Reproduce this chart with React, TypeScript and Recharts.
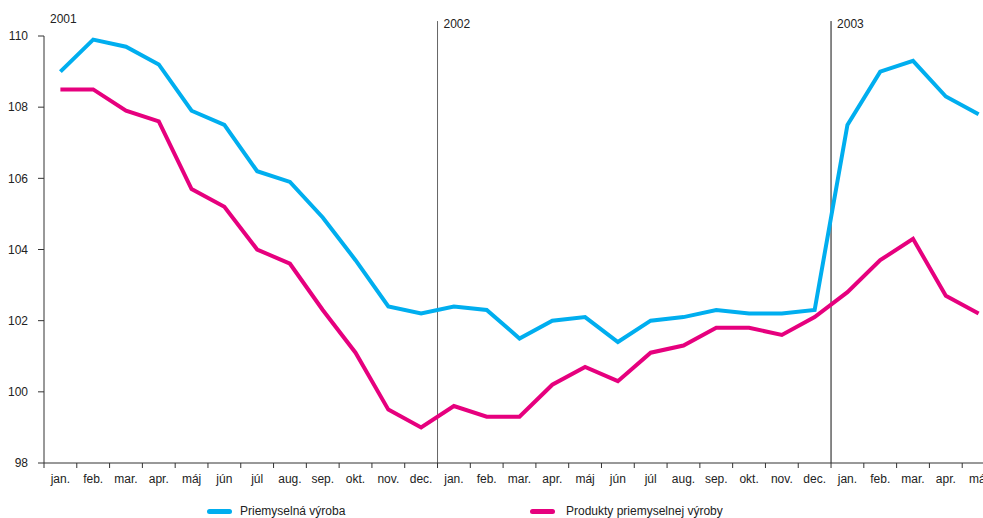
import { Line, LineChart, ReferenceLine, XAxis, YAxis } from "recharts";

const months = [
  "jan.", "feb.", "mar.", "apr.", "máj", "jún", "júl", "aug.", "sep.", "okt.", "nov.", "dec.",
  "jan.", "feb.", "mar.", "apr.", "máj", "jún", "júl", "aug.", "sep.", "okt.", "nov.", "dec.",
  "jan.", "feb.", "mar.", "apr.", "máj",
];

const vyroba = [
  109.0, 109.9, 109.7, 109.2, 107.9, 107.5, 106.2, 105.9, 104.9, 103.7, 102.4, 102.2,
  102.4, 102.3, 101.5, 102.0, 102.1, 101.4, 102.0, 102.1, 102.3, 102.2, 102.2, 102.3,
  107.5, 109.0, 109.3, 108.3, 107.8,
];

const produkty = [
  108.5, 108.5, 107.9, 107.6, 105.7, 105.2, 104.0, 103.6, 102.3, 101.1, 99.5, 99.0,
  99.6, 99.3, 99.3, 100.2, 100.7, 100.3, 101.1, 101.3, 101.8, 101.8, 101.6, 102.1,
  102.8, 103.7, 104.3, 102.7, 102.2,
];

const years = [
  { x: 0, label: "2001", dy: 2 },
  { x: 12, label: "2002", dy: 7 },
  { x: 24, label: "2003", dy: 7 },
];

const yTicks = [98, 100, 102, 104, 106, 108, 110];

const data = months.map((m, i) => ({
  x: i + 0.5,
  month: m,
  vyroba: vyroba[i],
  produkty: produkty[i],
}));

const CHART_W = 1000;
const CHART_H = 518;
const Y_W = 44;
const M_RIGHT = 5;
const BAND = (CHART_W - Y_W - M_RIGHT) / months.length;
const FONT = "'Liberation Sans', Arial, sans-serif";

const MonthTick = (props: any) => {
  const { x, y, payload } = props;
  const i = payload.value;
  if (i >= months.length) return null;
  return (
    <text x={x + BAND / 2} y={y + 13} textAnchor="middle" fontSize={12} fill="#222" fontFamily={FONT}>
      {months[i]}
    </text>
  );
};

const YearLabel = (props: any) => {
  const { viewBox, text, dy } = props;
  return (
    <text x={viewBox.x + 6} y={viewBox.y + dy} fontSize={12} fill="#222" fontFamily={FONT}>
      {text}
    </text>
  );
};

const LegendItem = ({ color, text, left, swatch }: { color: string; text: string; left: number; swatch: number }) => (
  <>
    <div
      style={{
        position: "absolute",
        left: swatch,
        top: 509,
        width: 25,
        height: 5,
        borderRadius: 3,
        background: color,
      }}
    />
    <div
      style={{
        position: "absolute",
        left,
        top: 504,
        fontSize: 12,
        lineHeight: "14px",
        color: "#222",
        fontFamily: FONT,
        whiteSpace: "nowrap",
      }}
    >
      {text}
    </div>
  </>
);

export default function App() {
  return (
    <div
      style={{
        position: "fixed",
        left: 0,
        top: 0,
        width: 983,
        height: 518,
        overflow: "hidden",
        background: "#fff",
      }}
    >
      <LineChart width={CHART_W} height={CHART_H} data={data} margin={{ top: 36, right: M_RIGHT, bottom: 25, left: 0 }}>
        <XAxis
          type="number"
          dataKey="x"
          domain={[0, months.length]}
          ticks={months.map((_, i) => i).concat([months.length])}
          interval={0}
          tickSize={5}
          tick={<MonthTick />}
          height={30}
          stroke="#333"
        />
        <YAxis
          domain={[98, 110]}
          ticks={yTicks}
          width={Y_W}
          tickSize={6}
          tickMargin={10}
          interval={0}
          stroke="#333"
          tick={{ fill: "#222", fontSize: 12, fontFamily: FONT }}
        />
        {years.map((yr) => (
          <ReferenceLine
            key={yr.label}
            segment={[
              { x: yr.x, y: 98 },
              { x: yr.x, y: 110.42 },
            ]}
            ifOverflow="visible"
            stroke={yr.x === 0 ? "none" : yr.x === 12 ? "#666" : "#111"}
            strokeWidth={1}
            label={<YearLabel text={yr.label} dy={yr.dy} />}
          />
        ))}
        <Line
          type="linear"
          dataKey="vyroba"
          stroke="#00aeef"
          strokeWidth={4}
          dot={false}
          isAnimationActive={false}
        />
        <Line
          type="linear"
          dataKey="produkty"
          stroke="#e6007e"
          strokeWidth={4}
          dot={false}
          isAnimationActive={false}
        />
      </LineChart>
      <LegendItem color="#00aeef" text="Priemyselná výroba" swatch={207} left={240} />
      <LegendItem color="#e6007e" text="Produkty priemyselnej výroby" swatch={530} left={566} />
    </div>
  );
}
